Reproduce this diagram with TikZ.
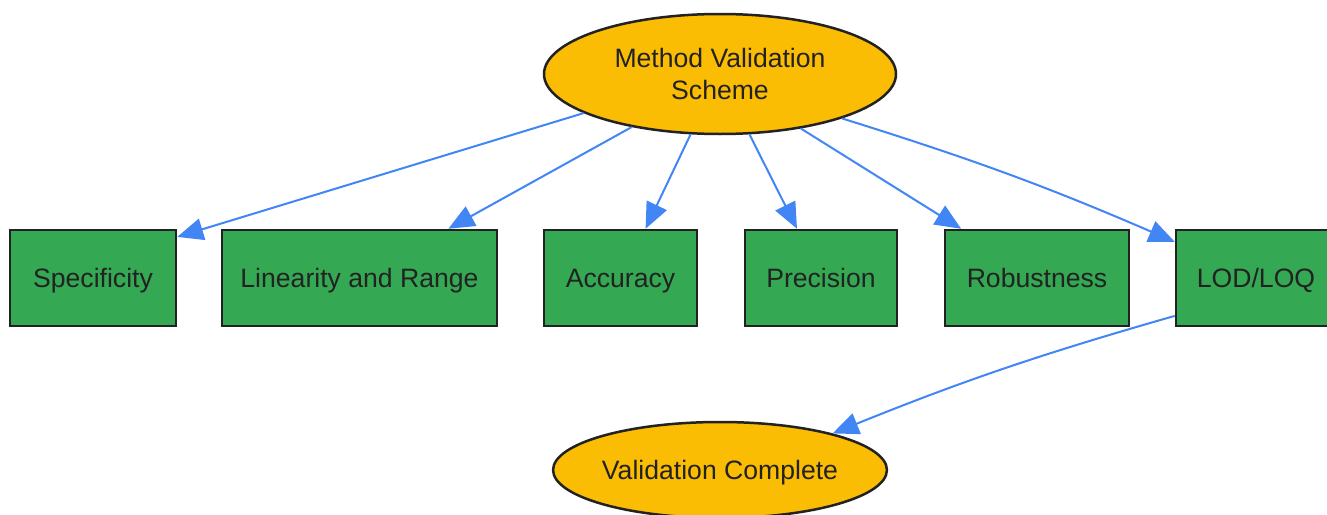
\documentclass[tikz,border=0pt]{standalone}
\usepackage{fontspec}
\setmainfont{Liberation Sans}
\usetikzlibrary{arrows.meta,shapes.geometric}

\definecolor{stepgold}{HTML}{FBBC04}
\definecolor{stepgreen}{HTML}{34A853}
\definecolor{flowblue}{HTML}{4285F4}
\definecolor{edgegray}{HTML}{222222}

\tikzset{
	oval/.style={ellipse,draw=edgegray,line width=1.25pt,fill=stepgold,
		text=edgegray,align=center,inner sep=0pt},
	box/.style={rectangle,draw=edgegray,line width=1.25pt,fill=stepgreen,
		text=edgegray,minimum height=48pt,inner sep=0pt,
		text height=9.5pt,text depth=0pt},
	flow/.style={draw=flowblue,line width=1pt,
		-{Triangle[length=13pt,width=11pt]}}
}

\begin{document}
\begin{tikzpicture}[x=0.5pt,y=-0.5pt,font=\fontsize{13.3}{16}\selectfont]
	\useasboundingbox (0,0) rectangle (1327,514);
	% start and end of the scheme
	\node[oval,minimum width=176pt,minimum height=60pt] (top) at (720,74)
		{Method Validation\\Scheme};
	\node[oval,minimum width=165.5pt,minimum height=48pt,
		text height=9.5pt,text depth=0pt] (done) at (720,470)
		{Validation Complete};
	% the six checks in one row
	\foreach \name/\x/\w/\txt in {spec/93/83/Specificity,
		lin/359.5/137.5/Linearity and Range, acc/620.5/76.5/Accuracy,
		prec/821/76/Precision, rob/1037/92/Robustness, lod/1256/80/{LOD/LOQ}}
		\node[box,minimum width=\w pt] (\name) at (\x,278) {\txt};
	% edges from the top ellipse
	\foreach \a/\b/\t in {196/spec/26, 211/lin/29, 244/acc/63,
		296/prec/116, 326/rob/147}
		\draw[flow] (top.\a) -- (\b.\t);
	\draw[flow] (top.340) to[bend left=3] (lod.156);
	\draw[flow] (lod.205) to[bend right=3] (done.18);
\end{tikzpicture}
\end{document}
